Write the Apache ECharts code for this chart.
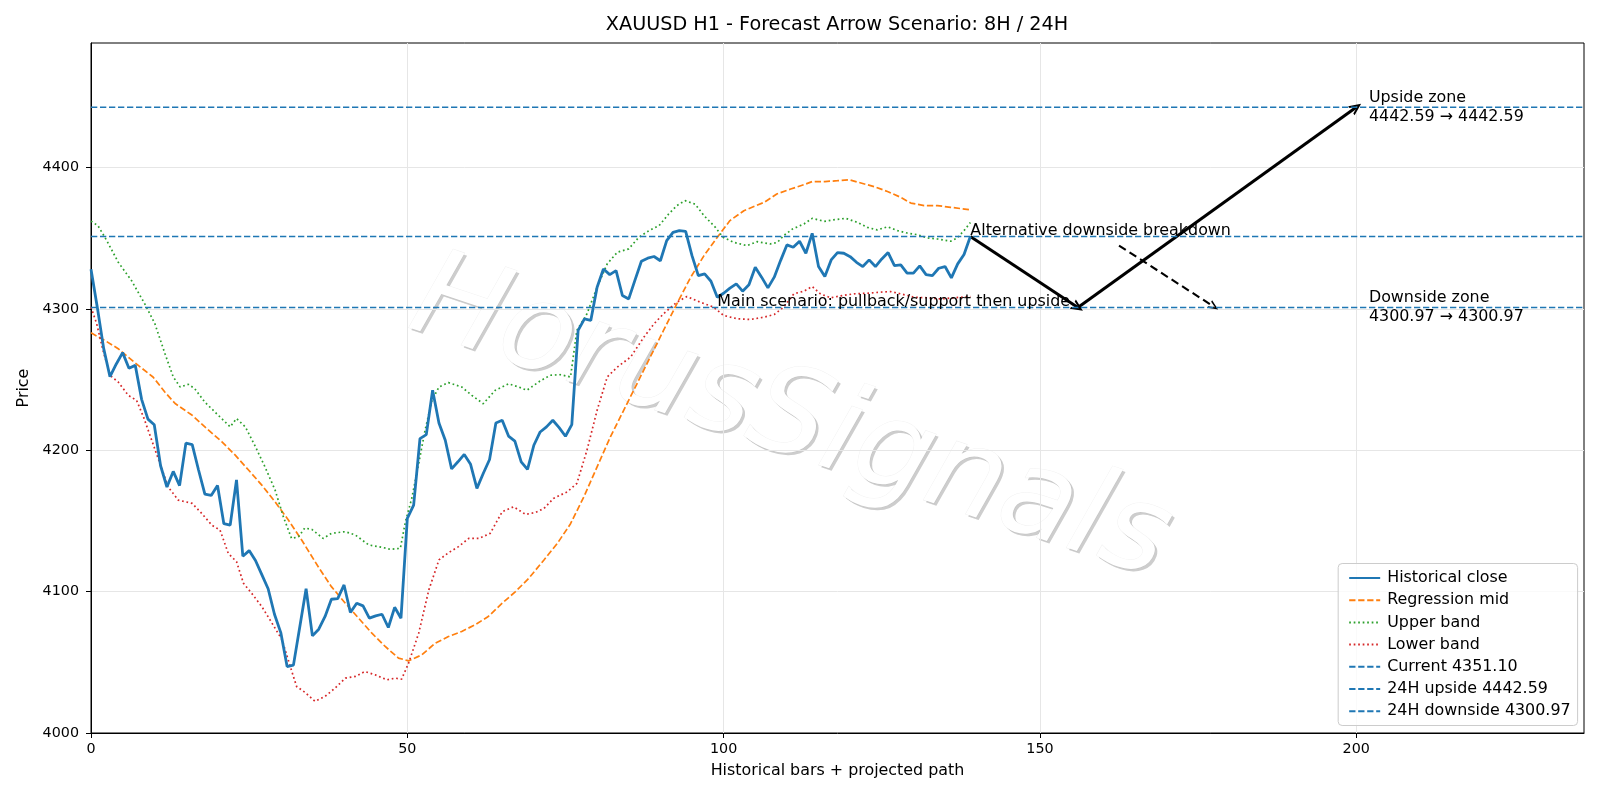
<!DOCTYPE html>
<html>
<head>
<meta charset="utf-8">
<title>XAUUSD H1 - Forecast Arrow Scenario</title>
<script src="https://cdn.jsdelivr.net/npm/echarts@6/dist/echarts.min.js"></script>
<style>
  html, body { margin: 0; padding: 0; background: #fff; }
  #chart { width: 1600px; height: 800px; }
</style>
</head>
<body>
<div id="chart"></div>
<script>
// historical closes, one per bar (bar index = position in the list)
const closes = [
  4328, 4301, 4272, 4252, 4261, 4269, 4258, 4260, 4236, 4222,
  4218, 4189, 4174, 4185, 4175, 4205, 4204, 4186, 4169, 4168,
  4175, 4148, 4147, 4179, 4125, 4129, 4122, 4112, 4102, 4084,
  4071, 4047, 4048, 4075, 4102, 4068.7, 4073.4, 4082.4, 4094.6, 4095.1,
  4104.7, 4085.2, 4091.8, 4089.9, 4081.2, 4082.8, 4084, 4074.6, 4088.9, 4081.2,
  4151.8, 4161.2, 4208.2, 4211, 4242.4, 4219.3, 4207, 4186.8, 4191.8, 4197,
  4190, 4173, 4183.5, 4193.4, 4219.3, 4221.2, 4210, 4206.4, 4191.8, 4186.4,
  4203.5, 4212.9, 4216.5, 4221.2, 4216, 4209.9, 4218.1, 4284.7, 4292.9, 4291.8,
  4315.3, 4328.2, 4324.2, 4327, 4309.4, 4307, 4320.5, 4333.6, 4335.8, 4337,
  4334, 4348.2, 4354, 4355.3, 4354.8, 4337.6, 4323.5, 4324.7, 4319.5, 4308.2,
  4311, 4314.6, 4317.6, 4312.5, 4317, 4329.4, 4322.4, 4314.8, 4322.4, 4334.1,
  4345.2, 4343.5, 4347.8, 4339.3, 4353.4, 4329.9, 4322.8, 4334.6, 4339.8, 4339.3,
  4336.9, 4332.9, 4329.9, 4334.6, 4329.9, 4335.3, 4339.8, 4330.6, 4331.1, 4325.2,
  4325.2, 4330.4, 4324.2, 4323.5, 4328.7, 4329.9, 4321.9, 4331.8, 4338.4, 4351.1
];

// bands read as [bar, price]
const midBand = [
  [0, 4283], [2.2, 4277.6], [4.3, 4271.8], [6.9, 4262], [9.8, 4251.8], [11.7, 4241],
  [13.3, 4233], [16, 4224.7], [18.3, 4215.3], [20.7, 4205.9], [22.8, 4196.5], [24.9, 4186],
  [27, 4175.3], [29.1, 4163.5], [31.2, 4150.6], [33.3, 4136.5], [36, 4117], [38, 4103.5],
  [40.2, 4091.8], [42.3, 4081.2], [44.4, 4070.6], [46.5, 4061.2], [48.6, 4053], [50.2, 4051],
  [52.3, 4055.3], [54.4, 4063.5], [56.5, 4068.2], [58.6, 4071.8], [60.7, 4076.5], [62.8, 4082.4],
  [65, 4091.8], [67.1, 4100], [69.2, 4109.4], [71.6, 4122.4], [73.7, 4134], [75.8, 4148],
  [77.9, 4167], [80, 4188.2], [82.1, 4209.4], [84.2, 4228.2], [86.3, 4247], [88.4, 4265.9],
  [90.5, 4284.7], [92.6, 4303.5], [94.8, 4322.4], [96.9, 4337.6], [99, 4350.6], [101, 4362.4],
  [103.2, 4369.4], [106.4, 4375.3], [108.4, 4381.2], [110.6, 4384.7], [112.7, 4387.8], [114, 4390],
  [116, 4390], [118, 4390.6], [119.8, 4391.3], [121.7, 4389], [123.8, 4386.4], [125.9, 4383],
  [128, 4378.8], [129.6, 4374.8], [131.7, 4373], [133.8, 4373], [135.9, 4371.8], [139, 4370]
];

const upperBand = [
  [0, 4362], [1.1, 4358.8], [2.5, 4348.2], [4.3, 4333], [6.4, 4320], [8.5, 4303.5],
  [10.1, 4289.4], [11.7, 4268.2], [13, 4251.8], [14.1, 4244.7], [15.4, 4246.6], [16.4, 4243.5],
  [18, 4234], [19.6, 4227], [21.2, 4220], [22, 4216.5], [23, 4222.4], [24.4, 4216.5],
  [26, 4202.4], [27.5, 4188.2], [29.1, 4171.8], [30.4, 4153], [31.7, 4137.6], [32.8, 4138.8],
  [33.8, 4145], [34.9, 4144], [36.7, 4137.6], [38, 4141.2], [40.2, 4142.4], [41.8, 4140],
  [43.9, 4133], [46, 4131.3], [47.3, 4129.9], [48.9, 4130.6], [49.7, 4149.4], [50.7, 4165.9],
  [51.8, 4190.6], [52.8, 4214], [53.9, 4235.3], [55, 4244.7], [56.5, 4247.8], [58.6, 4244.7],
  [60.2, 4238.8], [62, 4232.9], [63.9, 4242.4], [66, 4247], [67.6, 4244.7], [68.9, 4242.4],
  [71, 4249], [72.6, 4253], [74.2, 4253.4], [75.8, 4251.8], [76.8, 4284.7], [78.4, 4296.5],
  [80, 4315.3], [81.6, 4331.8], [83.2, 4340], [85, 4342.4], [86.6, 4350.6], [88.2, 4355.3],
  [89.8, 4358.8], [91.3, 4367], [92.6, 4373], [93.9, 4376.5], [95.5, 4374], [96.9, 4365.9],
  [98.7, 4357.6], [99.9, 4350.6], [101.6, 4347], [103.7, 4344.7], [105.3, 4347.5], [107.4, 4345.9],
  [108.5, 4347], [109.5, 4351.8], [110.9, 4356.5], [112.7, 4360], [114, 4364], [115.9, 4361.9],
  [118, 4363.3], [119.3, 4364], [121.1, 4361.2], [122.7, 4357.6], [124.3, 4355.8], [125.9, 4358],
  [127.5, 4355.3], [129, 4353.6], [130.6, 4352.5], [132.2, 4350.1], [133.8, 4349.4], [135.9, 4347.8],
  [136.9, 4350], [138, 4355.3], [139, 4361]
];

const lowerBand = [
  [0, 4301.2], [0.9, 4289.4], [1.9, 4270.6], [3, 4253], [4.3, 4248.2], [5.9, 4238.8],
  [7.2, 4235.3], [8.3, 4223.5], [9.6, 4207], [10.9, 4190.6], [12.2, 4174], [13.8, 4164.7],
  [16, 4162.4], [17.5, 4155.3], [19.1, 4147], [20.4, 4143.5], [21.7, 4127], [23, 4121.2],
  [24.1, 4105.9], [25.4, 4098.8], [27, 4089.4], [28.3, 4080], [30.2, 4065.9], [31.5, 4047],
  [32.5, 4032.9], [33.8, 4028.8], [35.4, 4022.4], [37, 4025.9], [38.6, 4031.8], [40.2, 4038.8],
  [41.8, 4040], [43.3, 4043.5], [44.9, 4041.2], [46.8, 4037.6], [48.1, 4038.8], [49.1, 4038.1],
  [50.2, 4049.4], [51.8, 4070.6], [53.4, 4101.2], [55, 4122.4], [56.5, 4127.5], [58.1, 4131.8],
  [59.7, 4137.6], [61.3, 4137.6], [63.1, 4141.2], [65, 4156.5], [66.8, 4160], [68.7, 4154.6],
  [70.3, 4156], [71.6, 4158.8], [73.1, 4165.9], [75.3, 4170.6], [76.8, 4176.5], [78.4, 4200],
  [80, 4228.2], [81.6, 4251.8], [83.2, 4258.8], [85.3, 4265.9], [87.4, 4280], [89, 4289.4],
  [90.5, 4296.5], [92.6, 4304.7], [94.2, 4308.7], [96.3, 4304.7], [98.4, 4301.2], [100, 4295.3],
  [102.2, 4292.9], [104.3, 4292.5], [106.4, 4294.1], [108, 4296], [109.5, 4301.2], [111.1, 4310.6],
  [112.7, 4312.5], [114, 4315.8], [115.3, 4310.6], [116.9, 4307.8], [118.8, 4309.4], [120.6, 4310.6],
  [122.7, 4311], [124.8, 4311.8], [126.4, 4312.2], [128, 4310.6], [130.1, 4308.2], [132.2, 4307.8],
  [134.3, 4307], [136.4, 4307.8], [139, 4308.7]
];

// horizontal reference levels
const levelNames = ['Current 4351.10', '24H upside 4442.59', '24H downside 4300.97'];
const levelValues = [4351.10, 4442.59, 4300.97];

// projected scenario arrows: [bar, price]
const mainPath = [[139, 4351.10], [156, 4300.97], [200, 4442.59]];
const altPath = [[162.5, 4344.7], [177.5, 4301.5]];

// axes
const xMin = 0, xMax = 236;
const yMin = 4000, yMax = 4488;
const xTicks = [0, 50, 100, 150, 200];
const yTicks = [4000, 4100, 4200, 4300, 4400];

const FONT = 'DejaVu Sans';
const BLUE = '#1f77b4';
const TXT = 15.9;   // annotation / label size

const chart = echarts.init(document.getElementById('chart'), null, { renderer: 'canvas' });

function lineSeries(name, data, color, width, type, z) {
  return {
    name: name,
    type: 'line',
    data: data,
    symbol: 'none',
    showSymbol: false,
    silent: true,
    z: z,
    lineStyle: { color: color, width: width, type: type, cap: 'butt' },
    itemStyle: { color: color }
  };
}

// open arrow head pointing up, rotated by the markLine
const HEAD = 'path://M0,12 L6,0 L12,12 L9.6,12 L6,4.6 L2.4,12 Z';

function arrowSegments(path) {
  const segs = [];
  for (let i = 0; i < path.length - 1; i++) {
    segs.push([{ coord: path[i] }, { coord: path[i + 1] }]);
  }
  return segs;
}

const series = [
  lineSeries('Historical close', closes.map((v, i) => [i, v]), BLUE, 2.8, 'solid', 6),
  lineSeries('Regression mid', midBand, '#ff7f0e', 1.7, [6.3, 2.7], 5),
  lineSeries('Upper band', upperBand, '#2ca02c', 1.7, [1.7, 2.8], 5),
  lineSeries('Lower band', lowerBand, '#d62728', 1.7, [1.7, 2.8], 5)
];
levelNames.forEach((name, i) => {
  series.push(lineSeries(name, [[xMin, levelValues[i]], [xMax, levelValues[i]]], BLUE, 1.6, [6.3, 2.7], 5));
});
series.push({
  name: 'main scenario',
  type: 'line',
  data: [],
  silent: true,
  z: 8,
  markLine: {
    silent: true,
    animation: false,
    symbol: ['none', HEAD],
    symbolSize: [11, 12],
    label: { show: false },
    lineStyle: { color: '#000', width: 3, type: 'solid' },
    emphasis: { disabled: true },
    data: arrowSegments(mainPath)
  }
});
series.push({
  name: 'alt scenario',
  type: 'line',
  data: [],
  silent: true,
  z: 8,
  markLine: {
    silent: true,
    animation: false,
    symbol: ['none', HEAD],
    symbolSize: [9, 10],
    label: { show: false },
    lineStyle: { color: '#000', width: 2.1, type: [8, 4.5] },
    emphasis: { disabled: true },
    data: arrowSegments(altPath)
  }
});

const option = {
  animation: false,
  backgroundColor: '#fff',
  textStyle: { fontFamily: FONT },
  title: {
    text: 'XAUUSD H1 - Forecast Arrow Scenario: 8H / 24H',
    left: 837,
    top: 16,
    textAlign: 'center',
    padding: 0,
    textStyle: { fontFamily: FONT, fontSize: 19.2, fontWeight: 'normal', color: '#000' }
  },
  grid: {
    left: 91, right: 16, top: 43, bottom: 67,
    show: true, borderColor: '#000', borderWidth: 1, backgroundColor: 'transparent'
  },
  legend: {
    data: ['Historical close', 'Regression mid', 'Upper band', 'Lower band'].concat(levelNames),
    orient: 'vertical',
    right: 22.4,
    bottom: 74.5,
    itemWidth: 31,
    itemHeight: 15,
    itemGap: 6.2,
    padding: [6.5, 7, 6.3, 10],
    backgroundColor: 'rgba(255,255,255,0.8)',
    borderColor: '#cccccc',
    borderWidth: 1,
    borderRadius: 4,
    selectedMode: false,
    itemStyle: { opacity: 0, color: 'rgba(0,0,0,0)', borderWidth: 0 },
    textStyle: { fontFamily: FONT, fontSize: TXT, color: '#000', padding: [0, 0, 0, 2] }
  },
  xAxis: {
    type: 'value',
    min: xMin, max: xMax,
    name: 'Historical bars + projected path',
    nameLocation: 'middle',
    nameGap: 30,
    nameTextStyle: { fontFamily: FONT, fontSize: TXT, color: '#000' },
    axisLine: { show: true, lineStyle: { color: '#000', width: 1 } },
    axisTick: { show: true, length: 5, customValues: xTicks, lineStyle: { color: '#000' } },
    axisLabel: {
      fontFamily: FONT, fontSize: 14.3, color: '#000', margin: 9, customValues: xTicks,
      formatter: v => String(v)
    },
    splitLine: { show: true, lineStyle: { color: '#e6e6e6', width: 1 } }
  },
  yAxis: {
    type: 'value',
    min: yMin, max: yMax,
    name: 'Price',
    nameLocation: 'middle',
    nameGap: 58,
    nameTextStyle: { fontFamily: FONT, fontSize: TXT, color: '#000' },
    axisLine: { show: true, lineStyle: { color: '#000', width: 1 } },
    axisTick: { show: true, length: 5, customValues: yTicks, lineStyle: { color: '#000' } },
    axisLabel: {
      fontFamily: FONT, fontSize: 14.3, color: '#000', margin: 12, customValues: yTicks,
      formatter: v => String(v)
    },
    splitLine: { show: true, lineStyle: { color: '#e6e6e6', width: 1 } }
  },
  series: series
};

chart.setOption(option);

// text annotations placed through the chart's own scales
const toPx = pt => chart.convertToPixel({ gridIndex: 0 }, pt);

const altAnchor = toPx(mainPath[0]);
const mainAnchor = toPx([99, levelValues[2]]);
const upAnchor = toPx([202, levelValues[1]]);
const downAnchor = toPx([202, levelValues[2]]);

function note(text, p, dy, vAlign) {
  return {
    type: 'text',
    x: p[0], y: p[1] + dy,
    z: 20,
    silent: true,
    style: {
      text: text, fill: '#000', font: TXT + 'px "' + FONT + '"',
      align: 'left', verticalAlign: vAlign, lineHeight: 18.5
    }
  };
}

const wmText = 'HorusSignals';
const wmRot = -18.5 * Math.PI / 180;
const wmFont = 'italic 121px "' + FONT + '"';

chart.setOption({
  graphic: { elements: [
    {
      type: 'text', x: 792.5, y: 424.5, rotation: wmRot, z: -2, silent: true,
      style: { text: wmText, font: wmFont, fill: '#cdcdcd', align: 'center', verticalAlign: 'middle' }
    },
    {
      type: 'text', x: 790, y: 422, rotation: wmRot, z: -1, silent: true,
      style: { text: wmText, font: wmFont, fill: '#ffffff', stroke: 'rgba(0,0,0,0.06)', lineWidth: 1,
               align: 'center', verticalAlign: 'middle' }
    },
    note('Alternative downside breakdown', altAnchor, -5.3, 'middle'),
    note('Main scenario: pullback/support then upside', mainAnchor, -5.3, 'middle'),
    note('Upside zone\n4442.59 \u2192 4442.59', upAnchor, 0, 'middle'),
    note('Downside zone\n4300.97 \u2192 4300.97', downAnchor, 0, 'middle')
  ] }
});
</script>
</body>
</html>
